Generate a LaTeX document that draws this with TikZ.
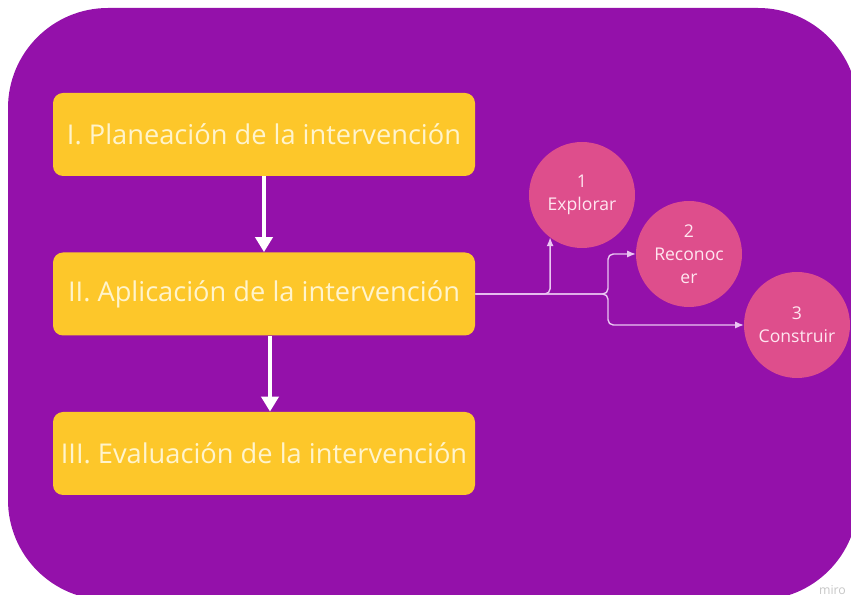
\documentclass[tikz,border=0pt]{standalone}
\usepackage{fontspec}
\setmainfont{Open Sans}
\usetikzlibrary{shapes.geometric, arrows.meta}
\definecolor{framepurple}{HTML}{9411AA}
\definecolor{boxyellow}{HTML}{FDC72A}
\definecolor{boxtext}{HTML}{FFF4CC}
\definecolor{circpink}{HTML}{DE4E8C}
\definecolor{circtext}{HTML}{FFE6F0}
\definecolor{linkcol}{HTML}{EAC6F2}
\tikzstyle{phase} = [rectangle, rounded corners=0.2cm, minimum width=8.44cm, minimum height=1.66cm, text centered, fill=boxyellow, text=boxtext, font=\fontsize{15.5}{18}\selectfont]
\tikzstyle{stepcircle} = [circle, minimum size=2.12cm, inner sep=0pt, outer sep=0pt, align=center, fill=circpink, text=circtext, font=\fontsize{10}{13}\selectfont]
\tikzstyle{bigarrow} = [line width=0.09cm, white, -{Triangle[width=0.34cm,length=0.3cm]}]
\tikzstyle{link} = [line width=0.8pt, linkcol, rounded corners=3pt, -{Latex[length=5pt,width=4pt]}]

\begin{document}
\begin{tikzpicture}[node distance=3.19cm]
	\useasboundingbox (0,0) rectangle (17.02,-11.9);
	% background
	\fill [framepurple, rounded corners=2cm] (0.16,-0.16) rectangle (17.16,-12.0);

	\node (plan) [phase] at (5.28,-2.69) {I. Planeación de la intervención};
	\node (apply) [phase, below of=plan] {II. Aplicación de la intervención};
	\node (eval) [phase, below of=apply] {III. Evaluación de la intervención};
	\node (explore) [stepcircle] at (11.64,-3.9) {1\\Explorar};
	\node (recognize) [stepcircle] at (13.78,-5.08) {2\\Reconoc\\er};
	\node (build) [stepcircle] at (15.94,-6.5) {3\\Construir};
	\coordinate (fork) at (12.16,-5.88);

	\draw [bigarrow] (plan) -- (apply);
	\draw [bigarrow] ([xshift=0.12cm]apply.south) -- ([xshift=0.12cm]eval.north);
	\draw [link] (apply.east) -| (explore.233);
	\draw [link] (apply.east) -- (fork) |- (recognize.west);
	\draw [link] (apply.east) -- (fork) |- (build.west);

	\node (miro) at (16.65,-11.8) [text=gray!45, font=\fontsize{7}{8}\selectfont] {miro};
\end{tikzpicture}
\end{document}
